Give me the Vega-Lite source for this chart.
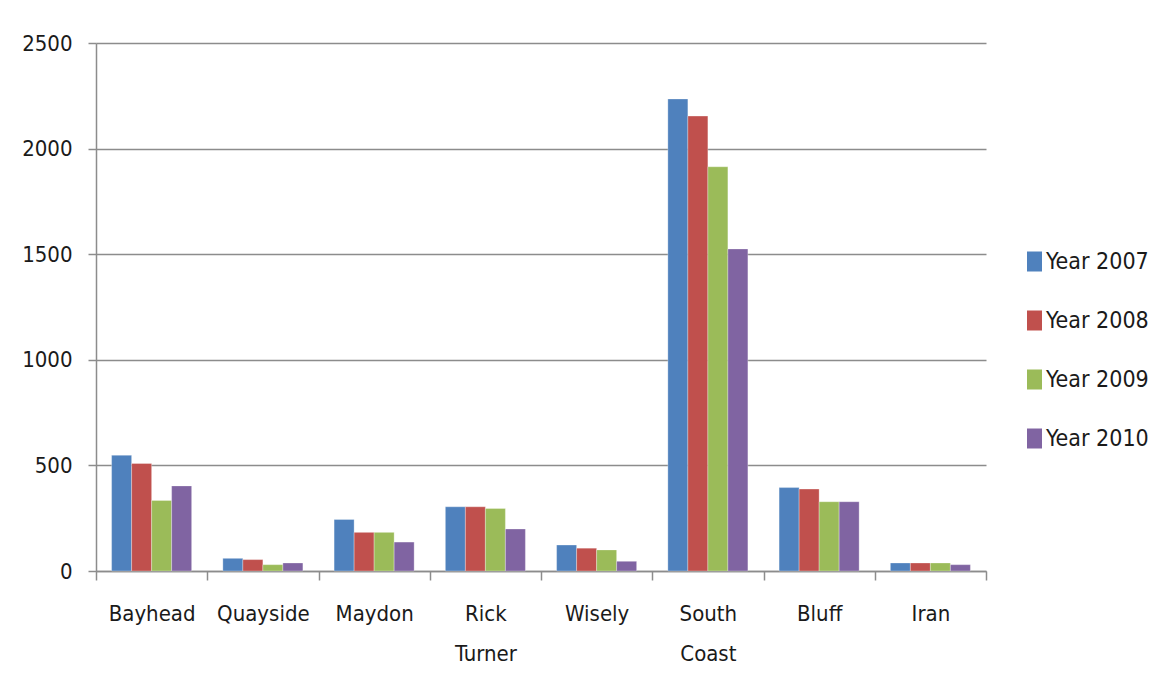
{
  "$schema": "https://vega.github.io/schema/vega-lite/v6.json",
  "width": 890,
  "height": 528,
  "autosize": {"type": "none"},
  "padding": {"left": 96, "top": 43, "right": 178, "bottom": 120},
  "background": "white",
  "config": {
    "font": "DejaVu Sans Condensed, Liberation Sans Narrow, Roboto Condensed, sans-serif",
    "view": {"stroke": null}
  },
  "data": {
    "values": [
      {"region": "Bayhead", "year": "Year 2007", "value": 548},
      {"region": "Bayhead", "year": "Year 2008", "value": 509},
      {"region": "Bayhead", "year": "Year 2009", "value": 334},
      {"region": "Bayhead", "year": "Year 2010", "value": 403},
      {"region": "Quayside", "year": "Year 2007", "value": 60},
      {"region": "Quayside", "year": "Year 2008", "value": 54},
      {"region": "Quayside", "year": "Year 2009", "value": 30},
      {"region": "Quayside", "year": "Year 2010", "value": 38},
      {"region": "Maydon", "year": "Year 2007", "value": 244},
      {"region": "Maydon", "year": "Year 2008", "value": 183},
      {"region": "Maydon", "year": "Year 2009", "value": 183},
      {"region": "Maydon", "year": "Year 2010", "value": 137},
      {"region": "Rick Turner", "year": "Year 2007", "value": 304},
      {"region": "Rick Turner", "year": "Year 2008", "value": 304},
      {"region": "Rick Turner", "year": "Year 2009", "value": 296},
      {"region": "Rick Turner", "year": "Year 2010", "value": 199},
      {"region": "Wisely", "year": "Year 2007", "value": 123},
      {"region": "Wisely", "year": "Year 2008", "value": 108},
      {"region": "Wisely", "year": "Year 2009", "value": 100},
      {"region": "Wisely", "year": "Year 2010", "value": 46},
      {"region": "South Coast", "year": "Year 2007", "value": 2235},
      {"region": "South Coast", "year": "Year 2008", "value": 2154},
      {"region": "South Coast", "year": "Year 2009", "value": 1914},
      {"region": "South Coast", "year": "Year 2010", "value": 1525},
      {"region": "Bluff", "year": "Year 2007", "value": 395},
      {"region": "Bluff", "year": "Year 2008", "value": 388},
      {"region": "Bluff", "year": "Year 2009", "value": 328},
      {"region": "Bluff", "year": "Year 2010", "value": 328},
      {"region": "Iran", "year": "Year 2007", "value": 38},
      {"region": "Iran", "year": "Year 2008", "value": 38},
      {"region": "Iran", "year": "Year 2009", "value": 38},
      {"region": "Iran", "year": "Year 2010", "value": 30}
    ]
  },
  "mark": {"type": "bar", "stroke": "white", "strokeWidth": 0.5, "strokeOpacity": 0.6},
  "encoding": {
    "x": {
      "field": "region",
      "type": "nominal",
      "sort": null,
      "scale": {"paddingInner": 0, "paddingOuter": 0},
      "axis": {
        "title": null,
        "labelAngle": 0,
        "labelFontSize": 22,
        "labelColor": "#1a1a1a",
        "labelPadding": 23,
        "labelLineHeight": 40,
        "labelExpr": "split(datum.label, ' ')",
        "tickBand": "extent",
        "tickSize": 9,
        "tickColor": "#8c8c8c",
        "tickWidth": 1.5,
        "domainColor": "#8c8c8c",
        "domainWidth": 1.5,
        "grid": false
      }
    },
    "xOffset": {"field": "year", "type": "nominal", "scale": {"paddingInner": 0, "paddingOuter": 0.78}},
    "y": {
      "field": "value",
      "type": "quantitative",
      "scale": {"domain": [0, 2500], "nice": false},
      "axis": {
        "title": null,
        "values": [0, 500, 1000, 1500, 2000, 2500],
        "format": "d",
        "labelFontSize": 22,
        "labelColor": "#1a1a1a",
        "labelPadding": 16,
        "tickSize": 8,
        "tickColor": "#8c8c8c",
        "tickWidth": 1.5,
        "domainColor": "#8c8c8c",
        "domainWidth": 1.5,
        "grid": true,
        "gridColor": "#8c8c8c",
        "gridWidth": 1.5
      }
    },
    "color": {
      "field": "year",
      "type": "nominal",
      "scale": {
        "domain": ["Year 2007", "Year 2008", "Year 2009", "Year 2010"],
        "range": ["#4F81BD", "#C0504D", "#9BBB59", "#8064A2"]
      },
      "legend": {
        "title": null,
        "orient": "none",
        "legendX": 927,
        "legendY": 207,
        "symbolType": "M-0.75,-1H0.75V1H-0.75Z",
        "symbolSize": 400,
        "symbolStrokeWidth": 0,
        "symbolOpacity": 1,
        "labelFontSize": 23,
        "labelColor": "#1a1a1a",
        "labelOffset": 0,
        "rowPadding": 35,
        "labelLimit": 200
      }
    }
  }
}
